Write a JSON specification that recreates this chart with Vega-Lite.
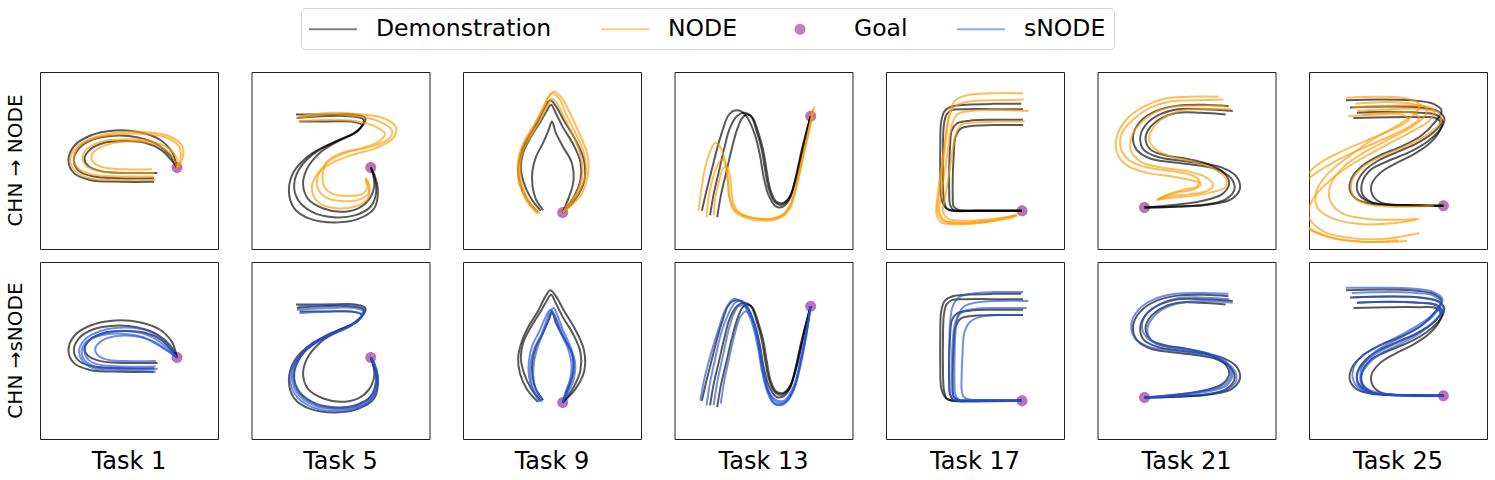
{
"$schema": "https://vega.github.io/schema/vega-lite/v6.json",
"background": "white",
"padding": {"left": 5, "top": 7, "right": 8, "bottom": 8},
"data": {"values": [
{"t":1,"s":"Demonstration","k":1,"x":64,"y":40},{"t":1,"s":"Demonstration","k":1,"x":45,"y":40},{"t":1,"s":"Demonstration","k":1,"x":30,"y":41},{"t":1,"s":"Demonstration","k":1,"x":22,"y":44},{"t":1,"s":"Demonstration","k":1,"x":19,"y":50},{"t":1,"s":"Demonstration","k":1,"x":22,"y":57},{"t":1,"s":"Demonstration","k":1,"x":30,"y":62},{"t":1,"s":"Demonstration","k":1,"x":42,"y":64},{"t":1,"s":"Demonstration","k":1,"x":55,"y":63},{"t":1,"s":"Demonstration","k":1,"x":66,"y":59},{"t":1,"s":"Demonstration","k":1,"x":73,"y":53},{"t":1,"s":"Demonstration","k":1,"x":77,"y":46},
{"t":1,"s":"Demonstration","k":2,"x":64,"y":38},{"t":1,"s":"Demonstration","k":2,"x":45,"y":38},{"t":1,"s":"Demonstration","k":2,"x":28,"y":39},{"t":1,"s":"Demonstration","k":2,"x":19,"y":43},{"t":1,"s":"Demonstration","k":2,"x":16,"y":50},{"t":1,"s":"Demonstration","k":2,"x":19,"y":58},{"t":1,"s":"Demonstration","k":2,"x":28,"y":64},{"t":1,"s":"Demonstration","k":2,"x":42,"y":67},{"t":1,"s":"Demonstration","k":2,"x":56,"y":66},{"t":1,"s":"Demonstration","k":2,"x":67,"y":62},{"t":1,"s":"Demonstration","k":2,"x":74,"y":55},{"t":1,"s":"Demonstration","k":2,"x":77,"y":46},
{"t":1,"s":"Demonstration","k":3,"x":66,"y":43},{"t":1,"s":"Demonstration","k":3,"x":46,"y":43},{"t":1,"s":"Demonstration","k":3,"x":34,"y":44},{"t":1,"s":"Demonstration","k":3,"x":27,"y":47},{"t":1,"s":"Demonstration","k":3,"x":25,"y":51},{"t":1,"s":"Demonstration","k":3,"x":28,"y":56},{"t":1,"s":"Demonstration","k":3,"x":36,"y":60},{"t":1,"s":"Demonstration","k":3,"x":48,"y":61},{"t":1,"s":"Demonstration","k":3,"x":59,"y":60},{"t":1,"s":"Demonstration","k":3,"x":68,"y":56},{"t":1,"s":"Demonstration","k":3,"x":74,"y":50},{"t":1,"s":"Demonstration","k":3,"x":77,"y":46},
{"t":1,"s":"NODE","k":1,"x":64,"y":41},{"t":1,"s":"NODE","k":1,"x":45,"y":41},{"t":1,"s":"NODE","k":1,"x":30,"y":42},{"t":1,"s":"NODE","k":1,"x":22,"y":45},{"t":1,"s":"NODE","k":1,"x":19,"y":51},{"t":1,"s":"NODE","k":1,"x":22,"y":58},{"t":1,"s":"NODE","k":1,"x":32,"y":63},{"t":1,"s":"NODE","k":1,"x":46,"y":65},{"t":1,"s":"NODE","k":1,"x":60,"y":65},{"t":1,"s":"NODE","k":1,"x":71,"y":63},{"t":1,"s":"NODE","k":1,"x":78,"y":58},{"t":1,"s":"NODE","k":1,"x":79,"y":51},{"t":1,"s":"NODE","k":1,"x":77,"y":46},
{"t":1,"s":"NODE","k":2,"x":65,"y":39},{"t":1,"s":"NODE","k":2,"x":45,"y":39},{"t":1,"s":"NODE","k":2,"x":28,"y":40},{"t":1,"s":"NODE","k":2,"x":20,"y":44},{"t":1,"s":"NODE","k":2,"x":17,"y":50},{"t":1,"s":"NODE","k":2,"x":20,"y":57},{"t":1,"s":"NODE","k":2,"x":30,"y":63},{"t":1,"s":"NODE","k":2,"x":45,"y":66},{"t":1,"s":"NODE","k":2,"x":60,"y":66},{"t":1,"s":"NODE","k":2,"x":72,"y":64},{"t":1,"s":"NODE","k":2,"x":80,"y":58},{"t":1,"s":"NODE","k":2,"x":80,"y":51},{"t":1,"s":"NODE","k":2,"x":77,"y":46},
{"t":1,"s":"NODE","k":3,"x":64,"y":43},{"t":1,"s":"NODE","k":3,"x":47,"y":43},{"t":1,"s":"NODE","k":3,"x":33,"y":44},{"t":1,"s":"NODE","k":3,"x":26,"y":47},{"t":1,"s":"NODE","k":3,"x":24,"y":52},{"t":1,"s":"NODE","k":3,"x":27,"y":57},{"t":1,"s":"NODE","k":3,"x":36,"y":61},{"t":1,"s":"NODE","k":3,"x":50,"y":62},{"t":1,"s":"NODE","k":3,"x":62,"y":61},{"t":1,"s":"NODE","k":3,"x":72,"y":57},{"t":1,"s":"NODE","k":3,"x":77,"y":51},{"t":1,"s":"NODE","k":3,"x":77,"y":46},
{"t":1,"s":"NODE","k":4,"x":63,"y":45},{"t":1,"s":"NODE","k":4,"x":48,"y":45},{"t":1,"s":"NODE","k":4,"x":36,"y":46},{"t":1,"s":"NODE","k":4,"x":30,"y":49},{"t":1,"s":"NODE","k":4,"x":29,"y":53},{"t":1,"s":"NODE","k":4,"x":33,"y":57},{"t":1,"s":"NODE","k":4,"x":42,"y":60},{"t":1,"s":"NODE","k":4,"x":54,"y":61},{"t":1,"s":"NODE","k":4,"x":65,"y":59},{"t":1,"s":"NODE","k":4,"x":73,"y":54},{"t":1,"s":"NODE","k":4,"x":77,"y":46},
{"t":1,"s":"sNODE","k":1,"x":65,"y":41},{"t":1,"s":"sNODE","k":1,"x":45,"y":41},{"t":1,"s":"sNODE","k":1,"x":33,"y":42},{"t":1,"s":"sNODE","k":1,"x":27,"y":45},{"t":1,"s":"sNODE","k":1,"x":25,"y":50},{"t":1,"s":"sNODE","k":1,"x":28,"y":56},{"t":1,"s":"sNODE","k":1,"x":37,"y":60},{"t":1,"s":"sNODE","k":1,"x":50,"y":61},{"t":1,"s":"sNODE","k":1,"x":62,"y":58},{"t":1,"s":"sNODE","k":1,"x":71,"y":52},{"t":1,"s":"sNODE","k":1,"x":77,"y":46},
{"t":1,"s":"sNODE","k":2,"x":65,"y":38},{"t":1,"s":"sNODE","k":2,"x":45,"y":39},{"t":1,"s":"sNODE","k":2,"x":30,"y":40},{"t":1,"s":"sNODE","k":2,"x":24,"y":44},{"t":1,"s":"sNODE","k":2,"x":22,"y":50},{"t":1,"s":"sNODE","k":2,"x":25,"y":56},{"t":1,"s":"sNODE","k":2,"x":34,"y":61},{"t":1,"s":"sNODE","k":2,"x":48,"y":63},{"t":1,"s":"sNODE","k":2,"x":61,"y":61},{"t":1,"s":"sNODE","k":2,"x":70,"y":55},{"t":1,"s":"sNODE","k":2,"x":77,"y":46},
{"t":1,"s":"sNODE","k":3,"x":65,"y":44},{"t":1,"s":"sNODE","k":3,"x":48,"y":44},{"t":1,"s":"sNODE","k":3,"x":37,"y":45},{"t":1,"s":"sNODE","k":3,"x":32,"y":48},{"t":1,"s":"sNODE","k":3,"x":31,"y":51},{"t":1,"s":"sNODE","k":3,"x":34,"y":55},{"t":1,"s":"sNODE","k":3,"x":42,"y":58},{"t":1,"s":"sNODE","k":3,"x":54,"y":58},{"t":1,"s":"sNODE","k":3,"x":64,"y":55},{"t":1,"s":"sNODE","k":3,"x":77,"y":46},
{"t":1,"s":"sNODE","k":4,"x":66,"y":39.5},{"t":1,"s":"sNODE","k":4,"x":46,"y":40},{"t":1,"s":"sNODE","k":4,"x":31,"y":41},{"t":1,"s":"sNODE","k":4,"x":25,"y":44.5},{"t":1,"s":"sNODE","k":4,"x":23.5,"y":50},{"t":1,"s":"sNODE","k":4,"x":26,"y":55},{"t":1,"s":"sNODE","k":4,"x":34,"y":58.5},{"t":1,"s":"sNODE","k":4,"x":46,"y":59.5},{"t":1,"s":"sNODE","k":4,"x":58,"y":57.5},{"t":1,"s":"sNODE","k":4,"x":68,"y":52},{"t":1,"s":"sNODE","k":4,"x":77,"y":46},
{"t":1,"s":"Goal","k":1,"x":77,"y":46},

{"t":5,"s":"Demonstration","k":1,"x":25.5,"y":74},{"t":5,"s":"Demonstration","k":1,"x":40,"y":75},{"t":5,"s":"Demonstration","k":1,"x":55,"y":75},{"t":5,"s":"Demonstration","k":1,"x":63,"y":73},{"t":5,"s":"Demonstration","k":1,"x":60,"y":67},{"t":5,"s":"Demonstration","k":1,"x":50,"y":62},{"t":5,"s":"Demonstration","k":1,"x":38,"y":56},{"t":5,"s":"Demonstration","k":1,"x":28,"y":47},{"t":5,"s":"Demonstration","k":1,"x":24,"y":37},{"t":5,"s":"Demonstration","k":1,"x":26,"y":28},{"t":5,"s":"Demonstration","k":1,"x":34,"y":21},{"t":5,"s":"Demonstration","k":1,"x":46,"y":18},{"t":5,"s":"Demonstration","k":1,"x":58,"y":19},{"t":5,"s":"Demonstration","k":1,"x":67,"y":24},{"t":5,"s":"Demonstration","k":1,"x":70,"y":32},{"t":5,"s":"Demonstration","k":1,"x":69,"y":41},{"t":5,"s":"Demonstration","k":1,"x":67,"y":46},
{"t":5,"s":"Demonstration","k":2,"x":25,"y":76},{"t":5,"s":"Demonstration","k":2,"x":45,"y":76},{"t":5,"s":"Demonstration","k":2,"x":58,"y":76},{"t":5,"s":"Demonstration","k":2,"x":64,"y":74},{"t":5,"s":"Demonstration","k":2,"x":60,"y":67},{"t":5,"s":"Demonstration","k":2,"x":48,"y":61},{"t":5,"s":"Demonstration","k":2,"x":34,"y":54},{"t":5,"s":"Demonstration","k":2,"x":24,"y":44},{"t":5,"s":"Demonstration","k":2,"x":21,"y":33},{"t":5,"s":"Demonstration","k":2,"x":24,"y":23},{"t":5,"s":"Demonstration","k":2,"x":33,"y":17},{"t":5,"s":"Demonstration","k":2,"x":47,"y":15},{"t":5,"s":"Demonstration","k":2,"x":60,"y":17},{"t":5,"s":"Demonstration","k":2,"x":69,"y":23},{"t":5,"s":"Demonstration","k":2,"x":71,"y":33},{"t":5,"s":"Demonstration","k":2,"x":69,"y":42},{"t":5,"s":"Demonstration","k":2,"x":67,"y":46},
{"t":5,"s":"Demonstration","k":3,"x":27,"y":72},{"t":5,"s":"Demonstration","k":3,"x":42,"y":72},{"t":5,"s":"Demonstration","k":3,"x":56,"y":72},{"t":5,"s":"Demonstration","k":3,"x":62,"y":70},{"t":5,"s":"Demonstration","k":3,"x":57,"y":65},{"t":5,"s":"Demonstration","k":3,"x":47,"y":60},{"t":5,"s":"Demonstration","k":3,"x":38,"y":54},{"t":5,"s":"Demonstration","k":3,"x":31,"y":45},{"t":5,"s":"Demonstration","k":3,"x":29,"y":36},{"t":5,"s":"Demonstration","k":3,"x":32,"y":28},{"t":5,"s":"Demonstration","k":3,"x":40,"y":23},{"t":5,"s":"Demonstration","k":3,"x":50,"y":21},{"t":5,"s":"Demonstration","k":3,"x":60,"y":23},{"t":5,"s":"Demonstration","k":3,"x":66,"y":28},{"t":5,"s":"Demonstration","k":3,"x":69,"y":36},{"t":5,"s":"Demonstration","k":3,"x":68,"y":43},{"t":5,"s":"Demonstration","k":3,"x":67,"y":46},
{"t":5,"s":"NODE","k":1,"x":25,"y":74},{"t":5,"s":"NODE","k":1,"x":45,"y":76},{"t":5,"s":"NODE","k":1,"x":60,"y":75},{"t":5,"s":"NODE","k":1,"x":72,"y":72},{"t":5,"s":"NODE","k":1,"x":79,"y":67},{"t":5,"s":"NODE","k":1,"x":77,"y":62},{"t":5,"s":"NODE","k":1,"x":68,"y":58},{"t":5,"s":"NODE","k":1,"x":55,"y":55},{"t":5,"s":"NODE","k":1,"x":44,"y":50},{"t":5,"s":"NODE","k":1,"x":38,"y":43},{"t":5,"s":"NODE","k":1,"x":37,"y":35},{"t":5,"s":"NODE","k":1,"x":42,"y":29},{"t":5,"s":"NODE","k":1,"x":52,"y":27},{"t":5,"s":"NODE","k":1,"x":61,"y":28},{"t":5,"s":"NODE","k":1,"x":66,"y":32},{"t":5,"s":"NODE","k":1,"x":66,"y":37},{"t":5,"s":"NODE","k":1,"x":64,"y":40},
{"t":5,"s":"NODE","k":2,"x":26,"y":72},{"t":5,"s":"NODE","k":2,"x":45,"y":73},{"t":5,"s":"NODE","k":2,"x":60,"y":72},{"t":5,"s":"NODE","k":2,"x":70,"y":69},{"t":5,"s":"NODE","k":2,"x":75,"y":65},{"t":5,"s":"NODE","k":2,"x":72,"y":61},{"t":5,"s":"NODE","k":2,"x":62,"y":57},{"t":5,"s":"NODE","k":2,"x":50,"y":54},{"t":5,"s":"NODE","k":2,"x":42,"y":49},{"t":5,"s":"NODE","k":2,"x":40,"y":42},{"t":5,"s":"NODE","k":2,"x":41,"y":35},{"t":5,"s":"NODE","k":2,"x":46,"y":31},{"t":5,"s":"NODE","k":2,"x":54,"y":30},{"t":5,"s":"NODE","k":2,"x":62,"y":31},{"t":5,"s":"NODE","k":2,"x":65,"y":35},{"t":5,"s":"NODE","k":2,"x":64,"y":39},
{"t":5,"s":"NODE","k":3,"x":27,"y":75},{"t":5,"s":"NODE","k":3,"x":46,"y":77},{"t":5,"s":"NODE","k":3,"x":62,"y":76},{"t":5,"s":"NODE","k":3,"x":74,"y":74},{"t":5,"s":"NODE","k":3,"x":81,"y":69},{"t":5,"s":"NODE","k":3,"x":80,"y":63},{"t":5,"s":"NODE","k":3,"x":70,"y":57},{"t":5,"s":"NODE","k":3,"x":56,"y":53},{"t":5,"s":"NODE","k":3,"x":44,"y":48},{"t":5,"s":"NODE","k":3,"x":36,"y":41},{"t":5,"s":"NODE","k":3,"x":34,"y":33},{"t":5,"s":"NODE","k":3,"x":38,"y":26},{"t":5,"s":"NODE","k":3,"x":48,"y":23},{"t":5,"s":"NODE","k":3,"x":58,"y":24},{"t":5,"s":"NODE","k":3,"x":65,"y":28},{"t":5,"s":"NODE","k":3,"x":66,"y":34},{"t":5,"s":"NODE","k":3,"x":64,"y":40},
{"t":5,"s":"sNODE","k":1,"x":25.5,"y":73},{"t":5,"s":"sNODE","k":1,"x":45,"y":74},{"t":5,"s":"sNODE","k":1,"x":58,"y":74},{"t":5,"s":"sNODE","k":1,"x":63,"y":72},{"t":5,"s":"sNODE","k":1,"x":56,"y":64},{"t":5,"s":"sNODE","k":1,"x":41,"y":57},{"t":5,"s":"sNODE","k":1,"x":28,"y":48},{"t":5,"s":"sNODE","k":1,"x":22,"y":37},{"t":5,"s":"sNODE","k":1,"x":24,"y":26},{"t":5,"s":"sNODE","k":1,"x":34,"y":18},{"t":5,"s":"sNODE","k":1,"x":50,"y":16},{"t":5,"s":"sNODE","k":1,"x":63,"y":19},{"t":5,"s":"sNODE","k":1,"x":69,"y":25},{"t":5,"s":"sNODE","k":1,"x":71,"y":34},{"t":5,"s":"sNODE","k":1,"x":69,"y":42},{"t":5,"s":"sNODE","k":1,"x":67,"y":46},
{"t":5,"s":"sNODE","k":2,"x":26,"y":75},{"t":5,"s":"sNODE","k":2,"x":45,"y":76},{"t":5,"s":"sNODE","k":2,"x":59,"y":75.5},{"t":5,"s":"sNODE","k":2,"x":64,"y":73},{"t":5,"s":"sNODE","k":2,"x":57,"y":65},{"t":5,"s":"sNODE","k":2,"x":42,"y":58},{"t":5,"s":"sNODE","k":2,"x":29,"y":49},{"t":5,"s":"sNODE","k":2,"x":23,"y":38},{"t":5,"s":"sNODE","k":2,"x":25,"y":27},{"t":5,"s":"sNODE","k":2,"x":35,"y":19},{"t":5,"s":"sNODE","k":2,"x":51,"y":17},{"t":5,"s":"sNODE","k":2,"x":64,"y":20},{"t":5,"s":"sNODE","k":2,"x":70,"y":27},{"t":5,"s":"sNODE","k":2,"x":71,"y":35},{"t":5,"s":"sNODE","k":2,"x":69,"y":43},{"t":5,"s":"sNODE","k":2,"x":67,"y":46},
{"t":5,"s":"sNODE","k":3,"x":27,"y":71},{"t":5,"s":"sNODE","k":3,"x":43,"y":72},{"t":5,"s":"sNODE","k":3,"x":56,"y":72},{"t":5,"s":"sNODE","k":3,"x":62,"y":70.5},{"t":5,"s":"sNODE","k":3,"x":55,"y":64},{"t":5,"s":"sNODE","k":3,"x":42,"y":58.5},{"t":5,"s":"sNODE","k":3,"x":30,"y":50},{"t":5,"s":"sNODE","k":3,"x":24,"y":39},{"t":5,"s":"sNODE","k":3,"x":25.5,"y":28},{"t":5,"s":"sNODE","k":3,"x":35,"y":20},{"t":5,"s":"sNODE","k":3,"x":50,"y":17.5},{"t":5,"s":"sNODE","k":3,"x":62,"y":20},{"t":5,"s":"sNODE","k":3,"x":68,"y":26},{"t":5,"s":"sNODE","k":3,"x":70,"y":35},{"t":5,"s":"sNODE","k":3,"x":68,"y":43},{"t":5,"s":"sNODE","k":3,"x":67,"y":46},
{"t":5,"s":"Goal","k":1,"x":67,"y":46},

{"t":9,"s":"Demonstration","k":1,"x":43.7,"y":21.6},{"t":9,"s":"Demonstration","k":1,"x":38,"y":29},{"t":9,"s":"Demonstration","k":1,"x":34,"y":38},{"t":9,"s":"Demonstration","k":1,"x":32.5,"y":46},{"t":9,"s":"Demonstration","k":1,"x":34,"y":55},{"t":9,"s":"Demonstration","k":1,"x":38,"y":63},{"t":9,"s":"Demonstration","k":1,"x":43,"y":71},{"t":9,"s":"Demonstration","k":1,"x":47,"y":78},{"t":9,"s":"Demonstration","k":1,"x":49.5,"y":81.5},{"t":9,"s":"Demonstration","k":1,"x":52,"y":77},{"t":9,"s":"Demonstration","k":1,"x":56,"y":69},{"t":9,"s":"Demonstration","k":1,"x":62,"y":59},{"t":9,"s":"Demonstration","k":1,"x":66,"y":49},{"t":9,"s":"Demonstration","k":1,"x":66,"y":39},{"t":9,"s":"Demonstration","k":1,"x":62,"y":29},{"t":9,"s":"Demonstration","k":1,"x":56,"y":20.6},
{"t":9,"s":"Demonstration","k":2,"x":45,"y":22},{"t":9,"s":"Demonstration","k":2,"x":41,"y":28},{"t":9,"s":"Demonstration","k":2,"x":39,"y":36},{"t":9,"s":"Demonstration","k":2,"x":39,"y":44},{"t":9,"s":"Demonstration","k":2,"x":41,"y":52},{"t":9,"s":"Demonstration","k":2,"x":45,"y":60},{"t":9,"s":"Demonstration","k":2,"x":48,"y":67},{"t":9,"s":"Demonstration","k":2,"x":50,"y":72},{"t":9,"s":"Demonstration","k":2,"x":52,"y":66},{"t":9,"s":"Demonstration","k":2,"x":56,"y":58},{"t":9,"s":"Demonstration","k":2,"x":61,"y":49},{"t":9,"s":"Demonstration","k":2,"x":62,"y":38},{"t":9,"s":"Demonstration","k":2,"x":59,"y":28},{"t":9,"s":"Demonstration","k":2,"x":56,"y":20.6},
{"t":9,"s":"Demonstration","k":3,"x":42,"y":21},{"t":9,"s":"Demonstration","k":3,"x":36,"y":28},{"t":9,"s":"Demonstration","k":3,"x":32,"y":37},{"t":9,"s":"Demonstration","k":3,"x":31,"y":46},{"t":9,"s":"Demonstration","k":3,"x":33,"y":55},{"t":9,"s":"Demonstration","k":3,"x":37,"y":64},{"t":9,"s":"Demonstration","k":3,"x":42,"y":72},{"t":9,"s":"Demonstration","k":3,"x":46,"y":80},{"t":9,"s":"Demonstration","k":3,"x":49,"y":84},{"t":9,"s":"Demonstration","k":3,"x":52,"y":81},{"t":9,"s":"Demonstration","k":3,"x":57,"y":72},{"t":9,"s":"Demonstration","k":3,"x":63,"y":62},{"t":9,"s":"Demonstration","k":3,"x":68,"y":50},{"t":9,"s":"Demonstration","k":3,"x":68,"y":38},{"t":9,"s":"Demonstration","k":3,"x":63,"y":28},{"t":9,"s":"Demonstration","k":3,"x":56,"y":20.6},
{"t":9,"s":"NODE","k":1,"x":41.8,"y":19.7},{"t":9,"s":"NODE","k":1,"x":36,"y":27},{"t":9,"s":"NODE","k":1,"x":32,"y":37},{"t":9,"s":"NODE","k":1,"x":31,"y":47},{"t":9,"s":"NODE","k":1,"x":33,"y":57},{"t":9,"s":"NODE","k":1,"x":38,"y":66},{"t":9,"s":"NODE","k":1,"x":43,"y":76},{"t":9,"s":"NODE","k":1,"x":47,"y":84},{"t":9,"s":"NODE","k":1,"x":50,"y":88},{"t":9,"s":"NODE","k":1,"x":54,"y":85},{"t":9,"s":"NODE","k":1,"x":58,"y":76},{"t":9,"s":"NODE","k":1,"x":63,"y":66},{"t":9,"s":"NODE","k":1,"x":68,"y":54},{"t":9,"s":"NODE","k":1,"x":69,"y":43},{"t":9,"s":"NODE","k":1,"x":65,"y":32},{"t":9,"s":"NODE","k":1,"x":60,"y":25},{"t":9,"s":"NODE","k":1,"x":56,"y":20.6},
{"t":9,"s":"NODE","k":2,"x":43,"y":20},{"t":9,"s":"NODE","k":2,"x":37,"y":27},{"t":9,"s":"NODE","k":2,"x":33,"y":37},{"t":9,"s":"NODE","k":2,"x":32,"y":47},{"t":9,"s":"NODE","k":2,"x":34,"y":56},{"t":9,"s":"NODE","k":2,"x":39,"y":65},{"t":9,"s":"NODE","k":2,"x":44,"y":74},{"t":9,"s":"NODE","k":2,"x":48,"y":82},{"t":9,"s":"NODE","k":2,"x":50,"y":85},{"t":9,"s":"NODE","k":2,"x":53,"y":82},{"t":9,"s":"NODE","k":2,"x":57,"y":74},{"t":9,"s":"NODE","k":2,"x":62,"y":64},{"t":9,"s":"NODE","k":2,"x":66,"y":53},{"t":9,"s":"NODE","k":2,"x":67,"y":42},{"t":9,"s":"NODE","k":2,"x":64,"y":32},{"t":9,"s":"NODE","k":2,"x":59,"y":25},{"t":9,"s":"NODE","k":2,"x":56,"y":20.6},
{"t":9,"s":"NODE","k":3,"x":42,"y":21},{"t":9,"s":"NODE","k":3,"x":35,"y":29},{"t":9,"s":"NODE","k":3,"x":31,"y":40},{"t":9,"s":"NODE","k":3,"x":31,"y":50},{"t":9,"s":"NODE","k":3,"x":34,"y":60},{"t":9,"s":"NODE","k":3,"x":40,"y":70},{"t":9,"s":"NODE","k":3,"x":45,"y":79},{"t":9,"s":"NODE","k":3,"x":48,"y":86},{"t":9,"s":"NODE","k":3,"x":51,"y":89},{"t":9,"s":"NODE","k":3,"x":55,"y":86},{"t":9,"s":"NODE","k":3,"x":60,"y":77},{"t":9,"s":"NODE","k":3,"x":65,"y":66},{"t":9,"s":"NODE","k":3,"x":70,"y":53},{"t":9,"s":"NODE","k":3,"x":70,"y":41},{"t":9,"s":"NODE","k":3,"x":66,"y":30},{"t":9,"s":"NODE","k":3,"x":60,"y":24},{"t":9,"s":"NODE","k":3,"x":56,"y":20.6},
{"t":9,"s":"sNODE","k":1,"x":44.3,"y":21},{"t":9,"s":"sNODE","k":1,"x":40,"y":27},{"t":9,"s":"sNODE","k":1,"x":38,"y":35},{"t":9,"s":"sNODE","k":1,"x":38,"y":43},{"t":9,"s":"sNODE","k":1,"x":40,"y":51},{"t":9,"s":"sNODE","k":1,"x":44,"y":59},{"t":9,"s":"sNODE","k":1,"x":47,"y":67},{"t":9,"s":"sNODE","k":1,"x":49,"y":72},{"t":9,"s":"sNODE","k":1,"x":51,"y":74},{"t":9,"s":"sNODE","k":1,"x":53,"y":70},{"t":9,"s":"sNODE","k":1,"x":56,"y":62},{"t":9,"s":"sNODE","k":1,"x":60,"y":53},{"t":9,"s":"sNODE","k":1,"x":63,"y":43},{"t":9,"s":"sNODE","k":1,"x":62,"y":33},{"t":9,"s":"sNODE","k":1,"x":59,"y":26},{"t":9,"s":"sNODE","k":1,"x":56,"y":20.6},
{"t":9,"s":"sNODE","k":2,"x":43,"y":21},{"t":9,"s":"sNODE","k":2,"x":39,"y":28},{"t":9,"s":"sNODE","k":2,"x":37,"y":36},{"t":9,"s":"sNODE","k":2,"x":37,"y":44},{"t":9,"s":"sNODE","k":2,"x":39,"y":53},{"t":9,"s":"sNODE","k":2,"x":43,"y":61},{"t":9,"s":"sNODE","k":2,"x":46,"y":68},{"t":9,"s":"sNODE","k":2,"x":49,"y":73},{"t":9,"s":"sNODE","k":2,"x":51,"y":71},{"t":9,"s":"sNODE","k":2,"x":54,"y":64},{"t":9,"s":"sNODE","k":2,"x":58,"y":55},{"t":9,"s":"sNODE","k":2,"x":62,"y":45},{"t":9,"s":"sNODE","k":2,"x":61,"y":35},{"t":9,"s":"sNODE","k":2,"x":58,"y":27},{"t":9,"s":"sNODE","k":2,"x":56,"y":20.6},
{"t":9,"s":"sNODE","k":3,"x":45,"y":22},{"t":9,"s":"sNODE","k":3,"x":41,"y":28},{"t":9,"s":"sNODE","k":3,"x":39.5,"y":36},{"t":9,"s":"sNODE","k":3,"x":40,"y":44},{"t":9,"s":"sNODE","k":3,"x":42,"y":52},{"t":9,"s":"sNODE","k":3,"x":45,"y":60},{"t":9,"s":"sNODE","k":3,"x":48,"y":67},{"t":9,"s":"sNODE","k":3,"x":50,"y":71},{"t":9,"s":"sNODE","k":3,"x":52,"y":68},{"t":9,"s":"sNODE","k":3,"x":55,"y":60},{"t":9,"s":"sNODE","k":3,"x":59,"y":51},{"t":9,"s":"sNODE","k":3,"x":61,"y":42},{"t":9,"s":"sNODE","k":3,"x":60,"y":33},{"t":9,"s":"sNODE","k":3,"x":57.5,"y":26},{"t":9,"s":"sNODE","k":3,"x":56,"y":20.6},
{"t":9,"s":"Goal","k":1,"x":56,"y":20.6},

{"t":13,"s":"Demonstration","k":1,"x":15.4,"y":21.6},{"t":13,"s":"Demonstration","k":1,"x":18,"y":33},{"t":13,"s":"Demonstration","k":1,"x":21,"y":45},{"t":13,"s":"Demonstration","k":1,"x":24,"y":57},{"t":13,"s":"Demonstration","k":1,"x":27,"y":67},{"t":13,"s":"Demonstration","k":1,"x":30,"y":75},{"t":13,"s":"Demonstration","k":1,"x":33,"y":78},{"t":13,"s":"Demonstration","k":1,"x":37,"y":78},{"t":13,"s":"Demonstration","k":1,"x":41,"y":74},{"t":13,"s":"Demonstration","k":1,"x":45,"y":65},{"t":13,"s":"Demonstration","k":1,"x":48,"y":53},{"t":13,"s":"Demonstration","k":1,"x":50,"y":41},{"t":13,"s":"Demonstration","k":1,"x":53,"y":30},{"t":13,"s":"Demonstration","k":1,"x":57,"y":24},{"t":13,"s":"Demonstration","k":1,"x":61,"y":24},{"t":13,"s":"Demonstration","k":1,"x":65,"y":29},{"t":13,"s":"Demonstration","k":1,"x":68,"y":40},{"t":13,"s":"Demonstration","k":1,"x":71,"y":54},{"t":13,"s":"Demonstration","k":1,"x":74,"y":66},{"t":13,"s":"Demonstration","k":1,"x":76.5,"y":75},
{"t":13,"s":"Demonstration","k":2,"x":24,"y":18},{"t":13,"s":"Demonstration","k":2,"x":26,"y":30},{"t":13,"s":"Demonstration","k":2,"x":29,"y":43},{"t":13,"s":"Demonstration","k":2,"x":32,"y":56},{"t":13,"s":"Demonstration","k":2,"x":35,"y":67},{"t":13,"s":"Demonstration","k":2,"x":38,"y":74},{"t":13,"s":"Demonstration","k":2,"x":41,"y":76},{"t":13,"s":"Demonstration","k":2,"x":44,"y":74},{"t":13,"s":"Demonstration","k":2,"x":47,"y":66},{"t":13,"s":"Demonstration","k":2,"x":50,"y":55},{"t":13,"s":"Demonstration","k":2,"x":52,"y":43},{"t":13,"s":"Demonstration","k":2,"x":54,"y":33},{"t":13,"s":"Demonstration","k":2,"x":57,"y":27},{"t":13,"s":"Demonstration","k":2,"x":61,"y":26},{"t":13,"s":"Demonstration","k":2,"x":65,"y":30},{"t":13,"s":"Demonstration","k":2,"x":69,"y":42},{"t":13,"s":"Demonstration","k":2,"x":72,"y":56},{"t":13,"s":"Demonstration","k":2,"x":74.5,"y":67},{"t":13,"s":"Demonstration","k":2,"x":76.5,"y":75},
{"t":13,"s":"Demonstration","k":3,"x":20,"y":19},{"t":13,"s":"Demonstration","k":3,"x":22,"y":31},{"t":13,"s":"Demonstration","k":3,"x":25,"y":44},{"t":13,"s":"Demonstration","k":3,"x":28,"y":57},{"t":13,"s":"Demonstration","k":3,"x":31,"y":68},{"t":13,"s":"Demonstration","k":3,"x":35,"y":75},{"t":13,"s":"Demonstration","k":3,"x":39,"y":77},{"t":13,"s":"Demonstration","k":3,"x":43,"y":75},{"t":13,"s":"Demonstration","k":3,"x":46,"y":67},{"t":13,"s":"Demonstration","k":3,"x":49,"y":56},{"t":13,"s":"Demonstration","k":3,"x":51,"y":44},{"t":13,"s":"Demonstration","k":3,"x":53,"y":34},{"t":13,"s":"Demonstration","k":3,"x":56,"y":27},{"t":13,"s":"Demonstration","k":3,"x":60,"y":25},{"t":13,"s":"Demonstration","k":3,"x":64,"y":28},{"t":13,"s":"Demonstration","k":3,"x":67,"y":36},{"t":13,"s":"Demonstration","k":3,"x":70,"y":48},{"t":13,"s":"Demonstration","k":3,"x":73,"y":61},{"t":13,"s":"Demonstration","k":3,"x":76.5,"y":75},
{"t":13,"s":"NODE","k":1,"x":13.5,"y":21.6},{"t":13,"s":"NODE","k":1,"x":15,"y":33},{"t":13,"s":"NODE","k":1,"x":17,"y":45},{"t":13,"s":"NODE","k":1,"x":20,"y":55},{"t":13,"s":"NODE","k":1,"x":23,"y":60},{"t":13,"s":"NODE","k":1,"x":26,"y":57},{"t":13,"s":"NODE","k":1,"x":28.5,"y":49},{"t":13,"s":"NODE","k":1,"x":30,"y":38},{"t":13,"s":"NODE","k":1,"x":31,"y":28},{"t":13,"s":"NODE","k":1,"x":34,"y":21},{"t":13,"s":"NODE","k":1,"x":42,"y":17},{"t":13,"s":"NODE","k":1,"x":52,"y":16},{"t":13,"s":"NODE","k":1,"x":60,"y":18},{"t":13,"s":"NODE","k":1,"x":65,"y":23},{"t":13,"s":"NODE","k":1,"x":68,"y":33},{"t":13,"s":"NODE","k":1,"x":71,"y":46},{"t":13,"s":"NODE","k":1,"x":74,"y":60},{"t":13,"s":"NODE","k":1,"x":76,"y":70},{"t":13,"s":"NODE","k":1,"x":78.5,"y":80.6},
{"t":13,"s":"NODE","k":2,"x":18,"y":18},{"t":13,"s":"NODE","k":2,"x":19,"y":28},{"t":13,"s":"NODE","k":2,"x":21,"y":38},{"t":13,"s":"NODE","k":2,"x":24,"y":47},{"t":13,"s":"NODE","k":2,"x":27,"y":51},{"t":13,"s":"NODE","k":2,"x":29,"y":47},{"t":13,"s":"NODE","k":2,"x":30,"y":38},{"t":13,"s":"NODE","k":2,"x":31,"y":29},{"t":13,"s":"NODE","k":2,"x":34,"y":22},{"t":13,"s":"NODE","k":2,"x":42,"y":18},{"t":13,"s":"NODE","k":2,"x":52,"y":17},{"t":13,"s":"NODE","k":2,"x":60,"y":19},{"t":13,"s":"NODE","k":2,"x":65,"y":25},{"t":13,"s":"NODE","k":2,"x":68,"y":35},{"t":13,"s":"NODE","k":2,"x":71,"y":48},{"t":13,"s":"NODE","k":2,"x":74,"y":61},{"t":13,"s":"NODE","k":2,"x":76,"y":70},{"t":13,"s":"NODE","k":2,"x":78,"y":79},
{"t":13,"s":"NODE","k":3,"x":22,"y":19},{"t":13,"s":"NODE","k":3,"x":23,"y":29},{"t":13,"s":"NODE","k":3,"x":25,"y":38},{"t":13,"s":"NODE","k":3,"x":27,"y":45},{"t":13,"s":"NODE","k":3,"x":29,"y":47},{"t":13,"s":"NODE","k":3,"x":31,"y":42},{"t":13,"s":"NODE","k":3,"x":32,"y":33},{"t":13,"s":"NODE","k":3,"x":33,"y":26},{"t":13,"s":"NODE","k":3,"x":37,"y":20},{"t":13,"s":"NODE","k":3,"x":45,"y":17.5},{"t":13,"s":"NODE","k":3,"x":55,"y":17},{"t":13,"s":"NODE","k":3,"x":62,"y":20},{"t":13,"s":"NODE","k":3,"x":66,"y":27},{"t":13,"s":"NODE","k":3,"x":69,"y":38},{"t":13,"s":"NODE","k":3,"x":72,"y":51},{"t":13,"s":"NODE","k":3,"x":75,"y":64},{"t":13,"s":"NODE","k":3,"x":77,"y":73},{"t":13,"s":"NODE","k":3,"x":78,"y":79},
{"t":13,"s":"sNODE","k":1,"x":14.5,"y":21.6},{"t":13,"s":"sNODE","k":1,"x":17,"y":35},{"t":13,"s":"sNODE","k":1,"x":21,"y":50},{"t":13,"s":"sNODE","k":1,"x":25,"y":63},{"t":13,"s":"sNODE","k":1,"x":29,"y":74},{"t":13,"s":"sNODE","k":1,"x":33,"y":79},{"t":13,"s":"sNODE","k":1,"x":37,"y":78},{"t":13,"s":"sNODE","k":1,"x":40,"y":74},{"t":13,"s":"sNODE","k":1,"x":44,"y":64},{"t":13,"s":"sNODE","k":1,"x":47,"y":51},{"t":13,"s":"sNODE","k":1,"x":49,"y":39},{"t":13,"s":"sNODE","k":1,"x":52,"y":27},{"t":13,"s":"sNODE","k":1,"x":55,"y":21},{"t":13,"s":"sNODE","k":1,"x":59,"y":19},{"t":13,"s":"sNODE","k":1,"x":64,"y":22},{"t":13,"s":"sNODE","k":1,"x":68,"y":31},{"t":13,"s":"sNODE","k":1,"x":71,"y":44},{"t":13,"s":"sNODE","k":1,"x":74,"y":58},{"t":13,"s":"sNODE","k":1,"x":76.5,"y":75},
{"t":13,"s":"sNODE","k":2,"x":18,"y":19},{"t":13,"s":"sNODE","k":2,"x":20,"y":32},{"t":13,"s":"sNODE","k":2,"x":23,"y":46},{"t":13,"s":"sNODE","k":2,"x":26,"y":59},{"t":13,"s":"sNODE","k":2,"x":30,"y":70},{"t":13,"s":"sNODE","k":2,"x":34,"y":77},{"t":13,"s":"sNODE","k":2,"x":38,"y":78},{"t":13,"s":"sNODE","k":2,"x":42,"y":73},{"t":13,"s":"sNODE","k":2,"x":45,"y":63},{"t":13,"s":"sNODE","k":2,"x":48,"y":50},{"t":13,"s":"sNODE","k":2,"x":50,"y":38},{"t":13,"s":"sNODE","k":2,"x":53,"y":26},{"t":13,"s":"sNODE","k":2,"x":56,"y":20},{"t":13,"s":"sNODE","k":2,"x":61,"y":20},{"t":13,"s":"sNODE","k":2,"x":66,"y":26},{"t":13,"s":"sNODE","k":2,"x":70,"y":38},{"t":13,"s":"sNODE","k":2,"x":73,"y":53},{"t":13,"s":"sNODE","k":2,"x":76.5,"y":75},
{"t":13,"s":"sNODE","k":3,"x":22,"y":19},{"t":13,"s":"sNODE","k":3,"x":24,"y":32},{"t":13,"s":"sNODE","k":3,"x":27,"y":46},{"t":13,"s":"sNODE","k":3,"x":30,"y":60},{"t":13,"s":"sNODE","k":3,"x":33,"y":70},{"t":13,"s":"sNODE","k":3,"x":36,"y":75},{"t":13,"s":"sNODE","k":3,"x":40,"y":75},{"t":13,"s":"sNODE","k":3,"x":43,"y":70},{"t":13,"s":"sNODE","k":3,"x":46,"y":60},{"t":13,"s":"sNODE","k":3,"x":48,"y":48},{"t":13,"s":"sNODE","k":3,"x":50,"y":36},{"t":13,"s":"sNODE","k":3,"x":53,"y":26},{"t":13,"s":"sNODE","k":3,"x":57,"y":21},{"t":13,"s":"sNODE","k":3,"x":62,"y":21},{"t":13,"s":"sNODE","k":3,"x":67,"y":28},{"t":13,"s":"sNODE","k":3,"x":70,"y":40},{"t":13,"s":"sNODE","k":3,"x":73,"y":55},{"t":13,"s":"sNODE","k":3,"x":76.5,"y":75},
{"t":13,"s":"sNODE","k":4,"x":26,"y":20},{"t":13,"s":"sNODE","k":4,"x":28,"y":33},{"t":13,"s":"sNODE","k":4,"x":31,"y":47},{"t":13,"s":"sNODE","k":4,"x":34,"y":60},{"t":13,"s":"sNODE","k":4,"x":37,"y":69},{"t":13,"s":"sNODE","k":4,"x":40,"y":72},{"t":13,"s":"sNODE","k":4,"x":43,"y":69},{"t":13,"s":"sNODE","k":4,"x":46,"y":60},{"t":13,"s":"sNODE","k":4,"x":48,"y":48},{"t":13,"s":"sNODE","k":4,"x":50,"y":37},{"t":13,"s":"sNODE","k":4,"x":53,"y":27},{"t":13,"s":"sNODE","k":4,"x":57,"y":22},{"t":13,"s":"sNODE","k":4,"x":62,"y":22},{"t":13,"s":"sNODE","k":4,"x":67,"y":30},{"t":13,"s":"sNODE","k":4,"x":71,"y":45},{"t":13,"s":"sNODE","k":4,"x":74,"y":60},{"t":13,"s":"sNODE","k":4,"x":76.5,"y":75},
{"t":13,"s":"Goal","k":1,"x":76.5,"y":75},

{"t":17,"s":"Demonstration","k":1,"x":77,"y":79},{"t":17,"s":"Demonstration","k":1,"x":60,"y":79},{"t":17,"s":"Demonstration","k":1,"x":45,"y":79},{"t":17,"s":"Demonstration","k":1,"x":37,"y":78.5},{"t":17,"s":"Demonstration","k":1,"x":34,"y":76},{"t":17,"s":"Demonstration","k":1,"x":32.5,"y":70},{"t":17,"s":"Demonstration","k":1,"x":32,"y":55},{"t":17,"s":"Demonstration","k":1,"x":32,"y":40},{"t":17,"s":"Demonstration","k":1,"x":32.5,"y":28},{"t":17,"s":"Demonstration","k":1,"x":34,"y":23},{"t":17,"s":"Demonstration","k":1,"x":37,"y":21.6},{"t":17,"s":"Demonstration","k":1,"x":50,"y":21.6},{"t":17,"s":"Demonstration","k":1,"x":65,"y":21.6},{"t":17,"s":"Demonstration","k":1,"x":76.4,"y":21.6},
{"t":17,"s":"Demonstration","k":2,"x":77,"y":73},{"t":17,"s":"Demonstration","k":2,"x":60,"y":73},{"t":17,"s":"Demonstration","k":2,"x":47,"y":72.5},{"t":17,"s":"Demonstration","k":2,"x":40,"y":71},{"t":17,"s":"Demonstration","k":2,"x":37,"y":67},{"t":17,"s":"Demonstration","k":2,"x":36,"y":58},{"t":17,"s":"Demonstration","k":2,"x":35.5,"y":45},{"t":17,"s":"Demonstration","k":2,"x":35.5,"y":32},{"t":17,"s":"Demonstration","k":2,"x":36,"y":25},{"t":17,"s":"Demonstration","k":2,"x":38,"y":22},{"t":17,"s":"Demonstration","k":2,"x":45,"y":21.6},{"t":17,"s":"Demonstration","k":2,"x":60,"y":21.6},{"t":17,"s":"Demonstration","k":2,"x":76.4,"y":21.6},
{"t":17,"s":"Demonstration","k":3,"x":76,"y":82},{"t":17,"s":"Demonstration","k":3,"x":60,"y":82},{"t":17,"s":"Demonstration","k":3,"x":45,"y":81.5},{"t":17,"s":"Demonstration","k":3,"x":37,"y":80.5},{"t":17,"s":"Demonstration","k":3,"x":33,"y":78},{"t":17,"s":"Demonstration","k":3,"x":31,"y":72},{"t":17,"s":"Demonstration","k":3,"x":30.5,"y":58},{"t":17,"s":"Demonstration","k":3,"x":30.5,"y":42},{"t":17,"s":"Demonstration","k":3,"x":31,"y":29},{"t":17,"s":"Demonstration","k":3,"x":33,"y":24},{"t":17,"s":"Demonstration","k":3,"x":36,"y":22},{"t":17,"s":"Demonstration","k":3,"x":50,"y":21.6},{"t":17,"s":"Demonstration","k":3,"x":76.4,"y":21.6},
{"t":17,"s":"Demonstration","k":4,"x":77,"y":70},{"t":17,"s":"Demonstration","k":4,"x":60,"y":70},{"t":17,"s":"Demonstration","k":4,"x":48,"y":69.5},{"t":17,"s":"Demonstration","k":4,"x":42,"y":68},{"t":17,"s":"Demonstration","k":4,"x":39,"y":63},{"t":17,"s":"Demonstration","k":4,"x":38,"y":52},{"t":17,"s":"Demonstration","k":4,"x":37.5,"y":40},{"t":17,"s":"Demonstration","k":4,"x":37.5,"y":30},{"t":17,"s":"Demonstration","k":4,"x":38,"y":24},{"t":17,"s":"Demonstration","k":4,"x":41,"y":22},{"t":17,"s":"Demonstration","k":4,"x":55,"y":21.6},{"t":17,"s":"Demonstration","k":4,"x":76.4,"y":21.6},
{"t":17,"s":"NODE","k":1,"x":77.4,"y":84.4},{"t":17,"s":"NODE","k":1,"x":60,"y":84},{"t":17,"s":"NODE","k":1,"x":45,"y":83},{"t":17,"s":"NODE","k":1,"x":38,"y":80},{"t":17,"s":"NODE","k":1,"x":35,"y":73},{"t":17,"s":"NODE","k":1,"x":33,"y":60},{"t":17,"s":"NODE","k":1,"x":31,"y":45},{"t":17,"s":"NODE","k":1,"x":29,"y":30},{"t":17,"s":"NODE","k":1,"x":28.3,"y":20},{"t":17,"s":"NODE","k":1,"x":31,"y":15},{"t":17,"s":"NODE","k":1,"x":40,"y":14},{"t":17,"s":"NODE","k":1,"x":55,"y":15},{"t":17,"s":"NODE","k":1,"x":66,"y":17},{"t":17,"s":"NODE","k":1,"x":73.6,"y":18.8},
{"t":17,"s":"NODE","k":2,"x":80,"y":78},{"t":17,"s":"NODE","k":2,"x":62,"y":78.5},{"t":17,"s":"NODE","k":2,"x":48,"y":78},{"t":17,"s":"NODE","k":2,"x":40,"y":76},{"t":17,"s":"NODE","k":2,"x":37,"y":70},{"t":17,"s":"NODE","k":2,"x":35,"y":58},{"t":17,"s":"NODE","k":2,"x":33,"y":44},{"t":17,"s":"NODE","k":2,"x":31,"y":30},{"t":17,"s":"NODE","k":2,"x":30,"y":21},{"t":17,"s":"NODE","k":2,"x":33,"y":16},{"t":17,"s":"NODE","k":2,"x":42,"y":15},{"t":17,"s":"NODE","k":2,"x":57,"y":16},{"t":17,"s":"NODE","k":2,"x":68,"y":18},{"t":17,"s":"NODE","k":2,"x":74,"y":19.5},
{"t":17,"s":"NODE","k":3,"x":78,"y":72},{"t":17,"s":"NODE","k":3,"x":62,"y":72},{"t":17,"s":"NODE","k":3,"x":50,"y":71.5},{"t":17,"s":"NODE","k":3,"x":42,"y":70},{"t":17,"s":"NODE","k":3,"x":39,"y":64},{"t":17,"s":"NODE","k":3,"x":37,"y":53},{"t":17,"s":"NODE","k":3,"x":35,"y":40},{"t":17,"s":"NODE","k":3,"x":33,"y":28},{"t":17,"s":"NODE","k":3,"x":32,"y":21},{"t":17,"s":"NODE","k":3,"x":35,"y":17},{"t":17,"s":"NODE","k":3,"x":45,"y":16},{"t":17,"s":"NODE","k":3,"x":60,"y":17},{"t":17,"s":"NODE","k":3,"x":73,"y":19},
{"t":17,"s":"NODE","k":4,"x":77,"y":88},{"t":17,"s":"NODE","k":4,"x":60,"y":88},{"t":17,"s":"NODE","k":4,"x":46,"y":87},{"t":17,"s":"NODE","k":4,"x":39,"y":84},{"t":17,"s":"NODE","k":4,"x":36,"y":78},{"t":17,"s":"NODE","k":4,"x":34,"y":65},{"t":17,"s":"NODE","k":4,"x":32,"y":48},{"t":17,"s":"NODE","k":4,"x":30,"y":32},{"t":17,"s":"NODE","k":4,"x":29,"y":22},{"t":17,"s":"NODE","k":4,"x":32,"y":16},{"t":17,"s":"NODE","k":4,"x":42,"y":14.5},{"t":17,"s":"NODE","k":4,"x":58,"y":15.5},{"t":17,"s":"NODE","k":4,"x":72,"y":18},
{"t":17,"s":"sNODE","k":1,"x":77,"y":83},{"t":17,"s":"sNODE","k":1,"x":60,"y":83},{"t":17,"s":"sNODE","k":1,"x":47,"y":82},{"t":17,"s":"sNODE","k":1,"x":41,"y":80},{"t":17,"s":"sNODE","k":1,"x":37.5,"y":75},{"t":17,"s":"sNODE","k":1,"x":36,"y":65},{"t":17,"s":"sNODE","k":1,"x":35.5,"y":50},{"t":17,"s":"sNODE","k":1,"x":35.5,"y":35},{"t":17,"s":"sNODE","k":1,"x":36,"y":26},{"t":17,"s":"sNODE","k":1,"x":38,"y":22},{"t":17,"s":"sNODE","k":1,"x":46,"y":21.6},{"t":17,"s":"sNODE","k":1,"x":62,"y":21.6},{"t":17,"s":"sNODE","k":1,"x":76.4,"y":21.6},
{"t":17,"s":"sNODE","k":2,"x":80,"y":78},{"t":17,"s":"sNODE","k":2,"x":62,"y":78},{"t":17,"s":"sNODE","k":2,"x":50,"y":77},{"t":17,"s":"sNODE","k":2,"x":44,"y":75},{"t":17,"s":"sNODE","k":2,"x":40.5,"y":70},{"t":17,"s":"sNODE","k":2,"x":39,"y":60},{"t":17,"s":"sNODE","k":2,"x":38.5,"y":46},{"t":17,"s":"sNODE","k":2,"x":38.5,"y":32},{"t":17,"s":"sNODE","k":2,"x":39,"y":25},{"t":17,"s":"sNODE","k":2,"x":41,"y":22.2},{"t":17,"s":"sNODE","k":2,"x":52,"y":21.8},{"t":17,"s":"sNODE","k":2,"x":76.4,"y":21.6},
{"t":17,"s":"sNODE","k":3,"x":77,"y":70},{"t":17,"s":"sNODE","k":3,"x":64,"y":70},{"t":17,"s":"sNODE","k":3,"x":53,"y":69},{"t":17,"s":"sNODE","k":3,"x":47,"y":66},{"t":17,"s":"sNODE","k":3,"x":44,"y":60},{"t":17,"s":"sNODE","k":3,"x":43,"y":48},{"t":17,"s":"sNODE","k":3,"x":42.5,"y":36},{"t":17,"s":"sNODE","k":3,"x":42.5,"y":28},{"t":17,"s":"sNODE","k":3,"x":43.5,"y":24},{"t":17,"s":"sNODE","k":3,"x":47,"y":22.3},{"t":17,"s":"sNODE","k":3,"x":60,"y":22},{"t":17,"s":"sNODE","k":3,"x":76.4,"y":21.6},
{"t":17,"s":"sNODE","k":4,"x":79,"y":74},{"t":17,"s":"sNODE","k":4,"x":62,"y":74},{"t":17,"s":"sNODE","k":4,"x":50,"y":73.5},{"t":17,"s":"sNODE","k":4,"x":43,"y":72},{"t":17,"s":"sNODE","k":4,"x":39,"y":66},{"t":17,"s":"sNODE","k":4,"x":37.5,"y":55},{"t":17,"s":"sNODE","k":4,"x":37,"y":42},{"t":17,"s":"sNODE","k":4,"x":37,"y":30},{"t":17,"s":"sNODE","k":4,"x":38,"y":24},{"t":17,"s":"sNODE","k":4,"x":41,"y":21.5},{"t":17,"s":"sNODE","k":4,"x":55,"y":21.2},{"t":17,"s":"sNODE","k":4,"x":76.4,"y":21.6},
{"t":17,"s":"Goal","k":1,"x":76.4,"y":21.6},

{"t":21,"s":"Demonstration","k":1,"x":73.6,"y":80.7},{"t":21,"s":"Demonstration","k":1,"x":60,"y":81.5},{"t":21,"s":"Demonstration","k":1,"x":45,"y":81},{"t":21,"s":"Demonstration","k":1,"x":33,"y":78},{"t":21,"s":"Demonstration","k":1,"x":24,"y":72},{"t":21,"s":"Demonstration","k":1,"x":20,"y":64},{"t":21,"s":"Demonstration","k":1,"x":22,"y":56},{"t":21,"s":"Demonstration","k":1,"x":30,"y":51},{"t":21,"s":"Demonstration","k":1,"x":42,"y":49},{"t":21,"s":"Demonstration","k":1,"x":55,"y":47.5},{"t":21,"s":"Demonstration","k":1,"x":67,"y":45},{"t":21,"s":"Demonstration","k":1,"x":75,"y":40},{"t":21,"s":"Demonstration","k":1,"x":77,"y":34},{"t":21,"s":"Demonstration","k":1,"x":72,"y":28},{"t":21,"s":"Demonstration","k":1,"x":60,"y":25},{"t":21,"s":"Demonstration","k":1,"x":45,"y":24},{"t":21,"s":"Demonstration","k":1,"x":35,"y":23.5},{"t":21,"s":"Demonstration","k":1,"x":26.4,"y":23.5},
{"t":21,"s":"Demonstration","k":2,"x":76,"y":78},{"t":21,"s":"Demonstration","k":2,"x":60,"y":79},{"t":21,"s":"Demonstration","k":2,"x":45,"y":79},{"t":21,"s":"Demonstration","k":2,"x":35,"y":76},{"t":21,"s":"Demonstration","k":2,"x":27,"y":70},{"t":21,"s":"Demonstration","k":2,"x":24,"y":63},{"t":21,"s":"Demonstration","k":2,"x":26,"y":56},{"t":21,"s":"Demonstration","k":2,"x":34,"y":52},{"t":21,"s":"Demonstration","k":2,"x":46,"y":50},{"t":21,"s":"Demonstration","k":2,"x":58,"y":48.5},{"t":21,"s":"Demonstration","k":2,"x":70,"y":46},{"t":21,"s":"Demonstration","k":2,"x":78,"y":41},{"t":21,"s":"Demonstration","k":2,"x":80,"y":34},{"t":21,"s":"Demonstration","k":2,"x":75,"y":28},{"t":21,"s":"Demonstration","k":2,"x":62,"y":25},{"t":21,"s":"Demonstration","k":2,"x":46,"y":24},{"t":21,"s":"Demonstration","k":2,"x":26.4,"y":23.5},
{"t":21,"s":"Demonstration","k":3,"x":72,"y":76},{"t":21,"s":"Demonstration","k":3,"x":58,"y":77},{"t":21,"s":"Demonstration","k":3,"x":45,"y":77},{"t":21,"s":"Demonstration","k":3,"x":36,"y":74},{"t":21,"s":"Demonstration","k":3,"x":29,"y":68},{"t":21,"s":"Demonstration","k":3,"x":27,"y":62},{"t":21,"s":"Demonstration","k":3,"x":30,"y":56},{"t":21,"s":"Demonstration","k":3,"x":38,"y":53},{"t":21,"s":"Demonstration","k":3,"x":50,"y":51},{"t":21,"s":"Demonstration","k":3,"x":62,"y":48},{"t":21,"s":"Demonstration","k":3,"x":71,"y":43},{"t":21,"s":"Demonstration","k":3,"x":74,"y":37},{"t":21,"s":"Demonstration","k":3,"x":70,"y":31},{"t":21,"s":"Demonstration","k":3,"x":58,"y":27},{"t":21,"s":"Demonstration","k":3,"x":44,"y":25},{"t":21,"s":"Demonstration","k":3,"x":26.4,"y":23.5},
{"t":21,"s":"NODE","k":1,"x":70.7,"y":84.4},{"t":21,"s":"NODE","k":1,"x":55,"y":84},{"t":21,"s":"NODE","k":1,"x":41.5,"y":83.5},{"t":21,"s":"NODE","k":1,"x":30,"y":80},{"t":21,"s":"NODE","k":1,"x":21,"y":74},{"t":21,"s":"NODE","k":1,"x":14,"y":66},{"t":21,"s":"NODE","k":1,"x":13,"y":57},{"t":21,"s":"NODE","k":1,"x":18,"y":50},{"t":21,"s":"NODE","k":1,"x":28,"y":46},{"t":21,"s":"NODE","k":1,"x":42,"y":44},{"t":21,"s":"NODE","k":1,"x":52,"y":42},{"t":21,"s":"NODE","k":1,"x":57,"y":39},{"t":21,"s":"NODE","k":1,"x":56,"y":35.5},{"t":21,"s":"NODE","k":1,"x":48,"y":33.5},{"t":21,"s":"NODE","k":1,"x":40,"y":31},{"t":21,"s":"NODE","k":1,"x":34,"y":28},
{"t":21,"s":"NODE","k":2,"x":72,"y":81},{"t":21,"s":"NODE","k":2,"x":56,"y":81},{"t":21,"s":"NODE","k":2,"x":43,"y":80.5},{"t":21,"s":"NODE","k":2,"x":32,"y":77},{"t":21,"s":"NODE","k":2,"x":24,"y":71},{"t":21,"s":"NODE","k":2,"x":19,"y":63},{"t":21,"s":"NODE","k":2,"x":19,"y":55},{"t":21,"s":"NODE","k":2,"x":25,"y":49},{"t":21,"s":"NODE","k":2,"x":36,"y":46},{"t":21,"s":"NODE","k":2,"x":50,"y":44},{"t":21,"s":"NODE","k":2,"x":60,"y":41},{"t":21,"s":"NODE","k":2,"x":65,"y":36},{"t":21,"s":"NODE","k":2,"x":62,"y":33},{"t":21,"s":"NODE","k":2,"x":52,"y":31},{"t":21,"s":"NODE","k":2,"x":42,"y":30},{"t":21,"s":"NODE","k":2,"x":34,"y":28},
{"t":21,"s":"NODE","k":3,"x":75,"y":79},{"t":21,"s":"NODE","k":3,"x":58,"y":79},{"t":21,"s":"NODE","k":3,"x":46,"y":78},{"t":21,"s":"NODE","k":3,"x":37,"y":74},{"t":21,"s":"NODE","k":3,"x":31,"y":68},{"t":21,"s":"NODE","k":3,"x":29,"y":62},{"t":21,"s":"NODE","k":3,"x":33,"y":56},{"t":21,"s":"NODE","k":3,"x":42,"y":52},{"t":21,"s":"NODE","k":3,"x":55,"y":49},{"t":21,"s":"NODE","k":3,"x":66,"y":45},{"t":21,"s":"NODE","k":3,"x":72,"y":40},{"t":21,"s":"NODE","k":3,"x":72,"y":35},{"t":21,"s":"NODE","k":3,"x":64,"y":32},{"t":21,"s":"NODE","k":3,"x":52,"y":30},{"t":21,"s":"NODE","k":3,"x":42,"y":29},{"t":21,"s":"NODE","k":3,"x":34,"y":28},
{"t":21,"s":"NODE","k":4,"x":68,"y":86},{"t":21,"s":"NODE","k":4,"x":52,"y":86},{"t":21,"s":"NODE","k":4,"x":38,"y":85},{"t":21,"s":"NODE","k":4,"x":27,"y":81},{"t":21,"s":"NODE","k":4,"x":17,"y":74},{"t":21,"s":"NODE","k":4,"x":11,"y":64},{"t":21,"s":"NODE","k":4,"x":11,"y":54},{"t":21,"s":"NODE","k":4,"x":17,"y":47},{"t":21,"s":"NODE","k":4,"x":28,"y":43},{"t":21,"s":"NODE","k":4,"x":42,"y":41},{"t":21,"s":"NODE","k":4,"x":52,"y":39},{"t":21,"s":"NODE","k":4,"x":58,"y":37},{"t":21,"s":"NODE","k":4,"x":55,"y":34},{"t":21,"s":"NODE","k":4,"x":45,"y":32},{"t":21,"s":"NODE","k":4,"x":38,"y":30},{"t":21,"s":"NODE","k":4,"x":33,"y":27.5},
{"t":21,"s":"sNODE","k":1,"x":73.6,"y":82},{"t":21,"s":"sNODE","k":1,"x":58,"y":82.5},{"t":21,"s":"sNODE","k":1,"x":44,"y":82},{"t":21,"s":"sNODE","k":1,"x":32,"y":79},{"t":21,"s":"sNODE","k":1,"x":23,"y":73},{"t":21,"s":"sNODE","k":1,"x":19,"y":65},{"t":21,"s":"sNODE","k":1,"x":21,"y":57},{"t":21,"s":"sNODE","k":1,"x":29,"y":52},{"t":21,"s":"sNODE","k":1,"x":42,"y":50},{"t":21,"s":"sNODE","k":1,"x":56,"y":48},{"t":21,"s":"sNODE","k":1,"x":68,"y":45},{"t":21,"s":"sNODE","k":1,"x":76,"y":40},{"t":21,"s":"sNODE","k":1,"x":78,"y":33},{"t":21,"s":"sNODE","k":1,"x":72,"y":27.5},{"t":21,"s":"sNODE","k":1,"x":58,"y":25},{"t":21,"s":"sNODE","k":1,"x":42,"y":24},{"t":21,"s":"sNODE","k":1,"x":26.4,"y":23.5},
{"t":21,"s":"sNODE","k":2,"x":74,"y":79},{"t":21,"s":"sNODE","k":2,"x":58,"y":80},{"t":21,"s":"sNODE","k":2,"x":45,"y":79.5},{"t":21,"s":"sNODE","k":2,"x":35,"y":76},{"t":21,"s":"sNODE","k":2,"x":27,"y":70},{"t":21,"s":"sNODE","k":2,"x":25,"y":63},{"t":21,"s":"sNODE","k":2,"x":28,"y":57},{"t":21,"s":"sNODE","k":2,"x":36,"y":53},{"t":21,"s":"sNODE","k":2,"x":49,"y":51},{"t":21,"s":"sNODE","k":2,"x":62,"y":48.5},{"t":21,"s":"sNODE","k":2,"x":72,"y":44},{"t":21,"s":"sNODE","k":2,"x":76,"y":37},{"t":21,"s":"sNODE","k":2,"x":72,"y":30},{"t":21,"s":"sNODE","k":2,"x":60,"y":26.5},{"t":21,"s":"sNODE","k":2,"x":44,"y":24.5},{"t":21,"s":"sNODE","k":2,"x":26.4,"y":23.5},
{"t":21,"s":"sNODE","k":3,"x":76,"y":77},{"t":21,"s":"sNODE","k":3,"x":60,"y":78},{"t":21,"s":"sNODE","k":3,"x":47,"y":77},{"t":21,"s":"sNODE","k":3,"x":37,"y":73.5},{"t":21,"s":"sNODE","k":3,"x":30,"y":67},{"t":21,"s":"sNODE","k":3,"x":28,"y":61},{"t":21,"s":"sNODE","k":3,"x":31,"y":55},{"t":21,"s":"sNODE","k":3,"x":40,"y":52},{"t":21,"s":"sNODE","k":3,"x":53,"y":50},{"t":21,"s":"sNODE","k":3,"x":65,"y":47},{"t":21,"s":"sNODE","k":3,"x":73,"y":42},{"t":21,"s":"sNODE","k":3,"x":75,"y":36},{"t":21,"s":"sNODE","k":3,"x":70,"y":30},{"t":21,"s":"sNODE","k":3,"x":58,"y":27},{"t":21,"s":"sNODE","k":3,"x":44,"y":25},{"t":21,"s":"sNODE","k":3,"x":26.4,"y":23.5},
{"t":21,"s":"Goal","k":1,"x":26.4,"y":23.5},

{"t":25,"s":"Demonstration","k":1,"x":20.8,"y":84},{"t":25,"s":"Demonstration","k":1,"x":40,"y":84.5},{"t":25,"s":"Demonstration","k":1,"x":58,"y":84},{"t":25,"s":"Demonstration","k":1,"x":70,"y":82},{"t":25,"s":"Demonstration","k":1,"x":74.5,"y":78},{"t":25,"s":"Demonstration","k":1,"x":71,"y":72},{"t":25,"s":"Demonstration","k":1,"x":63,"y":64},{"t":25,"s":"Demonstration","k":1,"x":52,"y":58},{"t":25,"s":"Demonstration","k":1,"x":40,"y":53},{"t":25,"s":"Demonstration","k":1,"x":30,"y":47},{"t":25,"s":"Demonstration","k":1,"x":24,"y":40},{"t":25,"s":"Demonstration","k":1,"x":23,"y":33},{"t":25,"s":"Demonstration","k":1,"x":27,"y":28},{"t":25,"s":"Demonstration","k":1,"x":35,"y":25.5},{"t":25,"s":"Demonstration","k":1,"x":50,"y":24.8},{"t":25,"s":"Demonstration","k":1,"x":65,"y":24.5},{"t":25,"s":"Demonstration","k":1,"x":75.5,"y":24.4},
{"t":25,"s":"Demonstration","k":2,"x":25,"y":74},{"t":25,"s":"Demonstration","k":2,"x":45,"y":74.5},{"t":25,"s":"Demonstration","k":2,"x":62,"y":74.5},{"t":25,"s":"Demonstration","k":2,"x":71,"y":74},{"t":25,"s":"Demonstration","k":2,"x":74,"y":71},{"t":25,"s":"Demonstration","k":2,"x":70,"y":66},{"t":25,"s":"Demonstration","k":2,"x":61,"y":60},{"t":25,"s":"Demonstration","k":2,"x":50,"y":55},{"t":25,"s":"Demonstration","k":2,"x":39,"y":50},{"t":25,"s":"Demonstration","k":2,"x":31,"y":44},{"t":25,"s":"Demonstration","k":2,"x":27,"y":37},{"t":25,"s":"Demonstration","k":2,"x":28,"y":31},{"t":25,"s":"Demonstration","k":2,"x":33,"y":27},{"t":25,"s":"Demonstration","k":2,"x":42,"y":25},{"t":25,"s":"Demonstration","k":2,"x":58,"y":24.6},{"t":25,"s":"Demonstration","k":2,"x":75.5,"y":24.4},
{"t":25,"s":"Demonstration","k":3,"x":23,"y":80},{"t":25,"s":"Demonstration","k":3,"x":45,"y":80.5},{"t":25,"s":"Demonstration","k":3,"x":62,"y":80},{"t":25,"s":"Demonstration","k":3,"x":72,"y":78},{"t":25,"s":"Demonstration","k":3,"x":76,"y":74},{"t":25,"s":"Demonstration","k":3,"x":74,"y":68},{"t":25,"s":"Demonstration","k":3,"x":67,"y":61},{"t":25,"s":"Demonstration","k":3,"x":57,"y":55},{"t":25,"s":"Demonstration","k":3,"x":45,"y":50},{"t":25,"s":"Demonstration","k":3,"x":35,"y":45},{"t":25,"s":"Demonstration","k":3,"x":30,"y":38},{"t":25,"s":"Demonstration","k":3,"x":30,"y":31},{"t":25,"s":"Demonstration","k":3,"x":35,"y":26.5},{"t":25,"s":"Demonstration","k":3,"x":45,"y":25},{"t":25,"s":"Demonstration","k":3,"x":60,"y":24.6},{"t":25,"s":"Demonstration","k":3,"x":75.5,"y":24.4},
{"t":25,"s":"Demonstration","k":4,"x":27,"y":77},{"t":25,"s":"Demonstration","k":4,"x":45,"y":77.5},{"t":25,"s":"Demonstration","k":4,"x":62,"y":77},{"t":25,"s":"Demonstration","k":4,"x":71,"y":76},{"t":25,"s":"Demonstration","k":4,"x":75,"y":72},{"t":25,"s":"Demonstration","k":4,"x":73,"y":66},{"t":25,"s":"Demonstration","k":4,"x":67,"y":59},{"t":25,"s":"Demonstration","k":4,"x":58,"y":53},{"t":25,"s":"Demonstration","k":4,"x":48,"y":48},{"t":25,"s":"Demonstration","k":4,"x":40,"y":43},{"t":25,"s":"Demonstration","k":4,"x":35,"y":36},{"t":25,"s":"Demonstration","k":4,"x":36,"y":30},{"t":25,"s":"Demonstration","k":4,"x":41,"y":26},{"t":25,"s":"Demonstration","k":4,"x":55,"y":24.8},{"t":25,"s":"Demonstration","k":4,"x":75.5,"y":24.4},
{"t":25,"s":"NODE","k":1,"x":20.8,"y":85.4},{"t":25,"s":"NODE","k":1,"x":40,"y":86},{"t":25,"s":"NODE","k":1,"x":55,"y":85},{"t":25,"s":"NODE","k":1,"x":62,"y":82},{"t":25,"s":"NODE","k":1,"x":60,"y":77},{"t":25,"s":"NODE","k":1,"x":50,"y":70},{"t":25,"s":"NODE","k":1,"x":36,"y":62},{"t":25,"s":"NODE","k":1,"x":22,"y":52},{"t":25,"s":"NODE","k":1,"x":10,"y":42},{"t":25,"s":"NODE","k":1,"x":4,"y":32},{"t":25,"s":"NODE","k":1,"x":5,"y":23},{"t":25,"s":"NODE","k":1,"x":14,"y":17},{"t":25,"s":"NODE","k":1,"x":30,"y":14},{"t":25,"s":"NODE","k":1,"x":47,"y":14.5},{"t":25,"s":"NODE","k":1,"x":60,"y":16.5},
{"t":25,"s":"NODE","k":2,"x":24,"y":80},{"t":25,"s":"NODE","k":2,"x":45,"y":81},{"t":25,"s":"NODE","k":2,"x":62,"y":81},{"t":25,"s":"NODE","k":2,"x":70,"y":79},{"t":25,"s":"NODE","k":2,"x":68,"y":73},{"t":25,"s":"NODE","k":2,"x":57,"y":66},{"t":25,"s":"NODE","k":2,"x":42,"y":58},{"t":25,"s":"NODE","k":2,"x":26,"y":49},{"t":25,"s":"NODE","k":2,"x":12,"y":39},{"t":25,"s":"NODE","k":2,"x":2,"y":28},{"t":25,"s":"NODE","k":2,"x":0,"y":18},{"t":25,"s":"NODE","k":2,"x":8,"y":10},{"t":25,"s":"NODE","k":2,"x":25,"y":6},{"t":25,"s":"NODE","k":2,"x":45,"y":6},{"t":25,"s":"NODE","k":2,"x":62,"y":9},
{"t":25,"s":"NODE","k":3,"x":27,"y":78},{"t":25,"s":"NODE","k":3,"x":45,"y":79},{"t":25,"s":"NODE","k":3,"x":63,"y":79},{"t":25,"s":"NODE","k":3,"x":73,"y":77},{"t":25,"s":"NODE","k":3,"x":74,"y":72},{"t":25,"s":"NODE","k":3,"x":67,"y":65},{"t":25,"s":"NODE","k":3,"x":54,"y":58},{"t":25,"s":"NODE","k":3,"x":40,"y":52},{"t":25,"s":"NODE","k":3,"x":30,"y":46},{"t":25,"s":"NODE","k":3,"x":24,"y":38},{"t":25,"s":"NODE","k":3,"x":25,"y":30},{"t":25,"s":"NODE","k":3,"x":32,"y":25.5},{"t":25,"s":"NODE","k":3,"x":45,"y":24},{"t":25,"s":"NODE","k":3,"x":60,"y":24},{"t":25,"s":"NODE","k":3,"x":70,"y":24.5},
{"t":25,"s":"NODE","k":4,"x":30,"y":76},{"t":25,"s":"NODE","k":4,"x":46,"y":77},{"t":25,"s":"NODE","k":4,"x":58,"y":77},{"t":25,"s":"NODE","k":4,"x":62,"y":74},{"t":25,"s":"NODE","k":4,"x":56,"y":69},{"t":25,"s":"NODE","k":4,"x":44,"y":63},{"t":25,"s":"NODE","k":4,"x":28,"y":56},{"t":25,"s":"NODE","k":4,"x":12,"y":48},{"t":25,"s":"NODE","k":4,"x":-2,"y":38},{"t":25,"s":"NODE","k":4,"x":-8,"y":26},{"t":25,"s":"NODE","k":4,"x":-4,"y":14},{"t":25,"s":"NODE","k":4,"x":10,"y":7},{"t":25,"s":"NODE","k":4,"x":30,"y":4},{"t":25,"s":"NODE","k":4,"x":50,"y":5},
{"t":25,"s":"NODE","k":5,"x":26,"y":82},{"t":25,"s":"NODE","k":5,"x":44,"y":83},{"t":25,"s":"NODE","k":5,"x":58,"y":82},{"t":25,"s":"NODE","k":5,"x":66,"y":80},{"t":25,"s":"NODE","k":5,"x":65,"y":75},{"t":25,"s":"NODE","k":5,"x":56,"y":68},{"t":25,"s":"NODE","k":5,"x":43,"y":61},{"t":25,"s":"NODE","k":5,"x":30,"y":54},{"t":25,"s":"NODE","k":5,"x":19,"y":46},{"t":25,"s":"NODE","k":5,"x":12,"y":36},{"t":25,"s":"NODE","k":5,"x":12,"y":27},{"t":25,"s":"NODE","k":5,"x":19,"y":20},{"t":25,"s":"NODE","k":5,"x":33,"y":17},{"t":25,"s":"NODE","k":5,"x":50,"y":16.5},{"t":25,"s":"NODE","k":5,"x":62,"y":17},
{"t":25,"s":"NODE","k":6,"x":22,"y":75},{"t":25,"s":"NODE","k":6,"x":40,"y":76},{"t":25,"s":"NODE","k":6,"x":52,"y":76},{"t":25,"s":"NODE","k":6,"x":56,"y":73},{"t":25,"s":"NODE","k":6,"x":48,"y":68},{"t":25,"s":"NODE","k":6,"x":34,"y":62},{"t":25,"s":"NODE","k":6,"x":18,"y":55},{"t":25,"s":"NODE","k":6,"x":4,"y":47},{"t":25,"s":"NODE","k":6,"x":-6,"y":35},{"t":25,"s":"NODE","k":6,"x":-8,"y":22},{"t":25,"s":"NODE","k":6,"x":0,"y":12},{"t":25,"s":"NODE","k":6,"x":15,"y":6},{"t":25,"s":"NODE","k":6,"x":35,"y":4},{"t":25,"s":"NODE","k":6,"x":55,"y":4.5},
{"t":25,"s":"sNODE","k":1,"x":20.8,"y":85.4},{"t":25,"s":"sNODE","k":1,"x":40,"y":85.5},{"t":25,"s":"sNODE","k":1,"x":58,"y":85},{"t":25,"s":"sNODE","k":1,"x":70,"y":83},{"t":25,"s":"sNODE","k":1,"x":75,"y":79},{"t":25,"s":"sNODE","k":1,"x":72,"y":73},{"t":25,"s":"sNODE","k":1,"x":64,"y":66},{"t":25,"s":"sNODE","k":1,"x":52,"y":59},{"t":25,"s":"sNODE","k":1,"x":40,"y":53},{"t":25,"s":"sNODE","k":1,"x":30,"y":47},{"t":25,"s":"sNODE","k":1,"x":25,"y":40},{"t":25,"s":"sNODE","k":1,"x":25,"y":33},{"t":25,"s":"sNODE","k":1,"x":29,"y":28},{"t":25,"s":"sNODE","k":1,"x":38,"y":25.5},{"t":25,"s":"sNODE","k":1,"x":55,"y":24.6},{"t":25,"s":"sNODE","k":1,"x":75.5,"y":24.4},
{"t":25,"s":"sNODE","k":2,"x":25,"y":80},{"t":25,"s":"sNODE","k":2,"x":45,"y":80.5},{"t":25,"s":"sNODE","k":2,"x":62,"y":80},{"t":25,"s":"sNODE","k":2,"x":72,"y":78},{"t":25,"s":"sNODE","k":2,"x":75.5,"y":74},{"t":25,"s":"sNODE","k":2,"x":72,"y":68},{"t":25,"s":"sNODE","k":2,"x":63,"y":61},{"t":25,"s":"sNODE","k":2,"x":51,"y":55},{"t":25,"s":"sNODE","k":2,"x":39,"y":49},{"t":25,"s":"sNODE","k":2,"x":31,"y":43},{"t":25,"s":"sNODE","k":2,"x":27,"y":36},{"t":25,"s":"sNODE","k":2,"x":28,"y":30},{"t":25,"s":"sNODE","k":2,"x":34,"y":26.5},{"t":25,"s":"sNODE","k":2,"x":46,"y":25},{"t":25,"s":"sNODE","k":2,"x":62,"y":24.5},{"t":25,"s":"sNODE","k":2,"x":75.5,"y":24.4},
{"t":25,"s":"sNODE","k":3,"x":27,"y":77},{"t":25,"s":"sNODE","k":3,"x":45,"y":77.5},{"t":25,"s":"sNODE","k":3,"x":60,"y":77},{"t":25,"s":"sNODE","k":3,"x":70,"y":76},{"t":25,"s":"sNODE","k":3,"x":74,"y":72},{"t":25,"s":"sNODE","k":3,"x":70,"y":66},{"t":25,"s":"sNODE","k":3,"x":61,"y":59},{"t":25,"s":"sNODE","k":3,"x":50,"y":53},{"t":25,"s":"sNODE","k":3,"x":40,"y":48},{"t":25,"s":"sNODE","k":3,"x":33,"y":42},{"t":25,"s":"sNODE","k":3,"x":29,"y":35},{"t":25,"s":"sNODE","k":3,"x":30,"y":30},{"t":25,"s":"sNODE","k":3,"x":36,"y":26},{"t":25,"s":"sNODE","k":3,"x":50,"y":24.8},{"t":25,"s":"sNODE","k":3,"x":75.5,"y":24.4},
{"t":25,"s":"sNODE","k":4,"x":24,"y":82.5},{"t":25,"s":"sNODE","k":4,"x":44,"y":83},{"t":25,"s":"sNODE","k":4,"x":60,"y":82.5},{"t":25,"s":"sNODE","k":4,"x":70,"y":81},{"t":25,"s":"sNODE","k":4,"x":74,"y":77},{"t":25,"s":"sNODE","k":4,"x":71,"y":71},{"t":25,"s":"sNODE","k":4,"x":63,"y":64},{"t":25,"s":"sNODE","k":4,"x":53,"y":58},{"t":25,"s":"sNODE","k":4,"x":43,"y":53},{"t":25,"s":"sNODE","k":4,"x":35,"y":47.5},{"t":25,"s":"sNODE","k":4,"x":30,"y":41},{"t":25,"s":"sNODE","k":4,"x":29,"y":34},{"t":25,"s":"sNODE","k":4,"x":32,"y":29},{"t":25,"s":"sNODE","k":4,"x":40,"y":26},{"t":25,"s":"sNODE","k":4,"x":58,"y":24.7},{"t":25,"s":"sNODE","k":4,"x":75.5,"y":24.4},
{"t":25,"s":"Goal","k":1,"x":75.5,"y":24.4}
]},
"transform": [
{"fold": ["CHN → NODE", "CHN →sNODE"], "as": ["r", "v"]},
{"filter": "datum.s === 'Demonstration' || datum.s === 'Goal' || (datum.s === 'NODE' && datum.r === 'CHN → NODE') || (datum.s === 'sNODE' && datum.r === 'CHN →sNODE')"}
],
"facet": {
"row": {"field": "r", "type": "nominal", "sort": ["CHN → NODE", "CHN →sNODE"], "header": {"title": null, "labelAngle": -90, "labelFontSize": 20, "labelFont": "DejaVu Sans", "labelColor": "#000", "labelPadding": 3}},
"column": {"field": "t", "type": "ordinal", "sort": "ascending", "header": {"title": null, "labelOrient": "bottom", "labelExpr": "'Task ' + datum.value", "labelFontSize": 24, "labelFont": "DejaVu Sans", "labelColor": "#000", "labelPadding": 10}}
},
"spacing": {"row": 11, "column": 31.5},
"spec": {
"width": 178,
"height": 177,
"encoding": {
"x": {"field": "x", "type": "quantitative", "scale": {"domain": [0, 100], "nice": false, "zero": false}, "axis": null},
"y": {"field": "y", "type": "quantitative", "scale": {"domain": [0, 100], "nice": false, "zero": false}, "axis": null},
"color": {"field": "s", "type": "nominal", "scale": {"domain": ["Demonstration", "NODE", "Goal", "sNODE"], "range": ["#000000", "#ff9a00", "#800080", "#1f52e0"]}, "legend": {"title": null, "legendX": 261, "legendY": -64}}
},
"layer": [
{"transform": [{"filter": "datum.s === 'Goal'"}], "mark": {"type": "point", "filled": true, "size": 676, "opacity": 0.55},
 "encoding": {"shape": {"field": "s", "type": "nominal", "scale": {"domain": ["Demonstration", "NODE", "Goal", "sNODE"], "range": ["M-1,-0.077H2.69V0.077H-1Z", "M-1,-0.077H2.69V0.077H-1Z", "M-0.423,0A0.423,0.423,0,1,1,0.423,0A0.423,0.423,0,1,1,-0.423,0Z", "M-1,-0.077H2.69V0.077H-1Z"]}, "legend": {"title": null, "legendX": 261, "legendY": -64}}}},
{"transform": [{"filter": "datum.s !== 'Goal'"}], "mark": {"type": "line", "strokeWidth": 2, "opacity": 0.65, "clip": true, "interpolate": "catmull-rom"}, "encoding": {"detail": {"field": "k"}, "order": {"value": null}}}
]
},
"config": {"view": {"stroke": "#222", "strokeWidth": 1}, "font": "DejaVu Sans",
"legend": {"orient": "none", "direction": "horizontal", "columnPadding": 49, "labelOffset": 41, "labelFontSize": 23.5, "labelLimit": 0, "labelFont": "DejaVu Sans", "labelColor": "#000", "padding": 8, "strokeColor": "#d4d4d4", "fillColor": "white", "cornerRadius": 4, "symbolSize": 676, "symbolStrokeWidth": 0, "symbolOpacity": 0.5}}
}
